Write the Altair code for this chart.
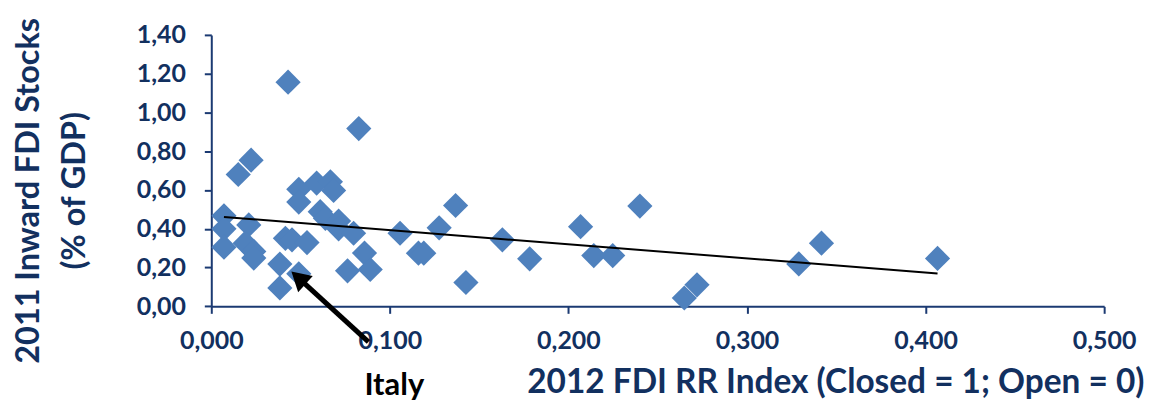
import altair as alt
import pandas as pd

# 2012 FDI RR Index (x) and 2011 inward FDI stocks, % of GDP (y)
fdi_rr_index = [0.0430, 0.0826, 0.0223, 0.0151, 0.0490, 0.0590, 0.0667, 0.0685,
                0.0490, 0.0610, 0.0639, 0.0713, 0.0713, 0.0797, 0.0071, 0.0071,
                0.0071, 0.0210, 0.0190, 0.0238, 0.0238, 0.0415, 0.0452, 0.0536,
                0.0384, 0.0490, 0.0384, 0.0763, 0.0858, 0.0890, 0.1057, 0.1160,
                0.1190, 0.1276, 0.1368, 0.1426, 0.1630, 0.1783, 0.2068, 0.2142,
                0.2248, 0.2400, 0.2649, 0.2720, 0.3290, 0.3417, 0.4067]
fdi_stocks = [1.156, 0.917, 0.754, 0.680, 0.604, 0.636, 0.642, 0.598,
              0.538, 0.488, 0.454, 0.440, 0.400, 0.377, 0.467, 0.400,
              0.305, 0.420, 0.326, 0.283, 0.249, 0.351, 0.343, 0.329,
              0.218, 0.168, 0.095, 0.183, 0.275, 0.190, 0.377, 0.274,
              0.274, 0.405, 0.520, 0.123, 0.343, 0.245, 0.411, 0.262,
              0.262, 0.517, 0.043, 0.111, 0.219, 0.326, 0.247]

x_ticks = [0.0, 0.1, 0.2, 0.3, 0.4, 0.5]
y_ticks = [0.0, 0.2, 0.4, 0.6, 0.8, 1.0, 1.2, 1.4]

# Annotation (Italy arrow), in data units
arrow_tail = [0.0880, -0.183]
arrow_head = [0.0488, 0.147]
italy_label = ["Italy"]
italy_pos = [0.1025, -0.455]

NAVY = "#12305F"
AXIS = "#1B3A72"
BLUE = "#4F81BD"
FONT = "Lato"

df = pd.DataFrame({"x": fdi_rr_index, "y": fdi_stocks})

x_scale = alt.Scale(domain=[0, 0.5], nice=False, zero=False)
y_scale = alt.Scale(domain=[0, 1.4], nice=False, zero=False)

x_axis = alt.Axis(
    values=x_ticks,
    labelExpr="replace(format(datum.value, '.3f'), '.', ',')",
    labelOverlap=False, labelFlush=False, labelBound=False,
    title="2012 FDI RR Index (Closed = 1; Open = 0)",
    titleX=936, titleY=86.5, titleAlign="right", titleBaseline="alphabetic",
    titleAnchor="start",
    grid=False, domainColor=AXIS, domainWidth=2, tickColor=AXIS, tickWidth=2, tickSize=7,
    labelColor=NAVY, labelFont=FONT, labelFontSize=25, labelFontWeight="bold",
    labelPadding=15, titleColor=NAVY, titleFont=FONT, titleFontSize=33.5, titleFontWeight="bold",
)
y_axis = alt.Axis(
    values=y_ticks,
    labelExpr="replace(format(datum.value, '.2f'), '.', ',')",
    labelOverlap=False, labelFlush=False, labelBound=False,
    title=["2011 Inward FDI Stocks", "(% of GDP)"],
    titleX=-173, titleY=156, titleAngle=270, titleAlign="center", titleBaseline="alphabetic",
    titleLineHeight=46,
    grid=False, domainColor=AXIS, domainWidth=2, tickColor=AXIS, tickWidth=2, tickSize=7,
    labelColor=NAVY, labelFont=FONT, labelFontSize=25, labelFontWeight="bold",
    labelPadding=19, titleColor=NAVY, titleFont=FONT, titleFontSize=32.5, titleFontWeight="bold",
)

points = alt.Chart(df).mark_point(shape="diamond", filled=True, size=640, opacity=1,
                                  color=BLUE, strokeWidth=0).encode(
    x=alt.X("x:Q", scale=x_scale, axis=x_axis),
    y=alt.Y("y:Q", scale=y_scale, axis=y_axis),
)

trend = alt.Chart(df).transform_regression(
    "x", "y", extent=[min(fdi_rr_index), max(fdi_rr_index)]
).mark_line(color="black", strokeWidth=2).encode(
    x=alt.X("x:Q", scale=x_scale, axis=x_axis),
    y=alt.Y("y:Q", scale=y_scale, axis=y_axis),
)

arrow_df = pd.DataFrame({"x": [arrow_tail[0]], "y": [arrow_tail[1]],
                         "x2": [arrow_head[0]], "y2": [arrow_head[1]]})
arrow_line = alt.Chart(arrow_df).mark_rule(color="black", strokeWidth=5).encode(
    x=alt.X("x:Q", scale=x_scale, axis=x_axis), y=alt.Y("y:Q", scale=y_scale, axis=y_axis),
    x2="x2:Q", y2="y2:Q",
)
head_df = pd.DataFrame({"x": [arrow_head[0]], "y": [arrow_head[1]]})
arrow_tip = alt.Chart(head_df).mark_point(shape="triangle-up", filled=True, size=480,
                                          color="black", opacity=1, angle=312).encode(
    x=alt.X("x:Q", scale=x_scale, axis=x_axis), y=alt.Y("y:Q", scale=y_scale, axis=y_axis),
)

label_df = pd.DataFrame({"x": [italy_pos[0]], "y": [italy_pos[1]], "t": italy_label})
italy = alt.Chart(label_df).mark_text(font=FONT, fontSize=31, fontWeight="bold",
                                      color="black", align="center",
                                      baseline="alphabetic").encode(
    x=alt.X("x:Q", scale=x_scale, axis=x_axis), y=alt.Y("y:Q", scale=y_scale, axis=y_axis),
    text="t:N",
)

chart = alt.layer(points, trend, arrow_line, arrow_tip, italy).properties(
    width=896, height=272.4,
    padding={"left": 204, "top": 26.3, "right": 44, "bottom": 94.3},
    autosize=alt.AutoSizeParams(type="none"),
).configure_view(stroke=None).configure_axis(labelOverlap=False)

chart.save("out.html", embed_options={"renderer": "svg", "actions": False})
